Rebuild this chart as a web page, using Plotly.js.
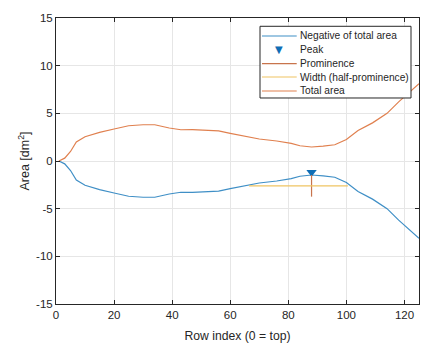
<!DOCTYPE html>
<html lang="en">
<head>
  <meta charset="UTF-8">
  <title>Total area and peak</title>
  <script src="https://cdn.plot.ly/plotly-3.0.1.min.js"></script>
  <style>
    html, body { margin: 0; padding: 0; background: #fff; }
    #plot { width: 426px; height: 344px; }
  </style>
</head>
<body>
  <div id="plot"></div>

  <script>
    // Row index and total area
    const rowIndex  = [1, 3, 5, 7, 10, 15, 20, 25, 30, 34, 39, 43, 47, 52, 56, 60, 65, 70, 76, 81, 84, 88, 92, 96, 100, 104, 109, 114, 118, 122, 125];
    const totalArea = [0, 0.3, 1.0, 2.0, 2.55, 3.0, 3.36, 3.7, 3.8, 3.8, 3.46, 3.28, 3.3, 3.25, 3.15, 2.9, 2.6, 2.31, 2.1, 1.85, 1.6, 1.47, 1.55, 1.7, 2.25, 3.2, 4.0, 5.0, 6.2, 7.3, 8.1];

    // Peak found on the negative curve
    const peakX = [88];
    const peakY = [-1.47];
    const prominence = [2.27];
    const widthBounds = [66.5, 100.5];

    const xTicks = [0, 20, 40, 60, 80, 100, 120];
    const yTicks = [-15, -10, -5, 0, 5, 10, 15];

    const legendLabels = ['Negative of total area', 'Peak', 'Prominence', 'Width (half-prominence)', 'Total area'];

    const blue = '#3f8fc6';
    const orange = '#e0804f';
    const yellow = '#efc462';
    const peakColor = '#0f6db5';
    const promColor = '#c8744c';
    const fontFam = 'Liberation Sans, Arial, sans-serif';

    const negArea = totalArea.map(v => -v);
    const halfY = peakY[0] - prominence[0] / 2;

    const traces = [
      {
        x: rowIndex, y: negArea, type: 'scatter', mode: 'lines',
        name: legendLabels[0], line: { color: blue, width: 1.2 }
      },
      {
        x: peakX, y: peakY.map(v => v + 0.3), type: 'scatter', mode: 'markers',
        name: legendLabels[1], marker: { symbol: 'triangle-down', size: 9, color: peakColor }
      },
      {
        x: [peakX[0], peakX[0]], y: [peakY[0], peakY[0] - prominence[0]],
        type: 'scatter', mode: 'lines', name: legendLabels[2],
        line: { color: promColor, width: 1.2 }
      },
      {
        x: widthBounds, y: [halfY, halfY], type: 'scatter', mode: 'lines',
        name: legendLabels[3], line: { color: yellow, width: 1.2 }
      },
      {
        x: rowIndex, y: totalArea, type: 'scatter', mode: 'lines',
        name: legendLabels[4], line: { color: orange, width: 1.2 }
      }
    ];

    // compact MATLAB-style legend box (paper coords)
    const legBox = { x0: 0.562, x1: 0.978, y0: 0.7203, y1: 0.971 };
    const rowY = [0.9371, 0.8892, 0.8402, 0.7937, 0.7448];
    const sampleX = [0.5675, 0.6631];
    const textX = 0.6667;
    const legColors = [blue, null, promColor, yellow, orange];

    const shapes = [{
      type: 'rect', xref: 'paper', yref: 'paper',
      x0: legBox.x0, x1: legBox.x1, y0: legBox.y0, y1: legBox.y1,
      fillcolor: '#fff', line: { color: '#262626', width: 1 }, layer: 'above'
    }];
    const annotations = [];
    legendLabels.forEach((lab, i) => {
      if (legColors[i]) {
        shapes.push({
          type: 'line', xref: 'paper', yref: 'paper',
          x0: sampleX[0], x1: sampleX[1], y0: rowY[i], y1: rowY[i],
          line: { color: legColors[i], width: 1.2 }, layer: 'above'
        });
      } else {
        annotations.push({
          xref: 'paper', yref: 'paper', x: (sampleX[0] + sampleX[1]) / 2, y: rowY[i],
          text: '▼', showarrow: false, xanchor: 'center', yanchor: 'middle',
          font: { family: 'DejaVu Sans', size: 10, color: peakColor }
        });
      }
      annotations.push({
        xref: 'paper', yref: 'paper', x: textX, y: rowY[i],
        text: lab, showarrow: false, xanchor: 'left', yanchor: 'middle',
        font: { family: fontFam, size: 10.2, color: '#262626' }
      });
    });

    const axisCommon = {
      showgrid: true, gridcolor: '#e6e6e6', gridwidth: 1,
      zeroline: false, showline: true, linecolor: '#262626', linewidth: 1,
      mirror: 'ticks', ticks: 'inside', ticklen: 4, tickcolor: '#262626',
      tickfont: { family: fontFam, size: 11.5, color: '#262626' }
    };

    const layout = {
      width: 426, height: 344,
      margin: { l: 56, r: 7, t: 18, b: 40 },
      paper_bgcolor: '#fff', plot_bgcolor: '#fff',
      font: { family: fontFam, color: '#262626' },
      showlegend: false,
      shapes: shapes,
      annotations: annotations,
      xaxis: Object.assign({}, axisCommon, {
        range: [0, 125], tickvals: xTicks, ticktext: xTicks.map(String),
        title: { text: 'Row index (0 = top)', font: { size: 12.2 }, standoff: 11 }
      }),
      yaxis: Object.assign({}, axisCommon, {
        range: [-15, 15], tickvals: yTicks, ticktext: yTicks.map(String),
        title: { text: 'Area [dm<sup>2</sup>]', font: { size: 12.5 }, standoff: 3 }
      })
    };

    Plotly.newPlot('plot', traces, layout, { displayModeBar: false, staticPlot: true });
  </script>
</body>
</html>
